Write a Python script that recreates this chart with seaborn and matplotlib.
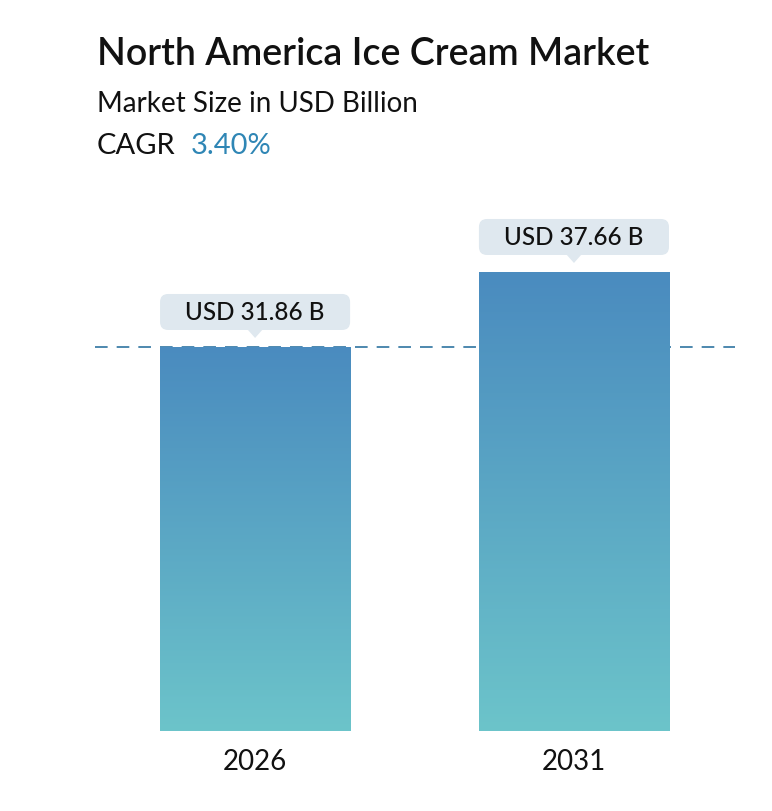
import numpy as np
import pandas as pd
import matplotlib
matplotlib.use("Agg")
import matplotlib.pyplot as plt
import seaborn as sns
from matplotlib.colors import LinearSegmentedColormap
from matplotlib.patches import FancyBboxPatch, Polygon
from matplotlib.transforms import IdentityTransform

years = ["2026", "2031"]
values = [31.86, 37.66]
labels = ["USD 31.86 B", "USD 37.66 B"]
title = "North America Ice Cream Market"
subtitle = "Market Size in USD Billion"
cagr = "3.40%"

sns.set_style("white")
plt.rcParams["font.family"] = ["Lato", "DejaVu Sans"]

df = pd.DataFrame({"year": years, "value": values})

fig = plt.figure(figsize=(7.72, 8.11), dpi=100)
W, H = 772, 811
# axes: x 95..735 px, y 200..731 px
ax = fig.add_axes([95 / W, 1 - 731 / H, 640 / W, 531 / H])

sns.barplot(data=df, x="year", y="value", ax=ax, width=0.596,
            color="#5aa6c4", saturation=1)
ax.set_xlim(-0.502, 1.505)
ax.set_ylim(2.16, 2.16 + 531 / 12.93)

# gradient fill inside bars
cmap = LinearSegmentedColormap.from_list("g", ["#6cc4ca", "#4a8bbf"])
grad = np.linspace(0, 1, 256).reshape(-1, 1)
for bar in ax.patches:
    x0, y0 = bar.get_x(), bar.get_y()
    w, h = bar.get_width(), bar.get_height()
    bar.set_facecolor("none")
    bar.set_edgecolor("none")
    im = ax.imshow(grad, cmap=cmap, aspect="auto", origin="lower",
                   extent=[x0, x0 + w, ax.get_ylim()[0], y0 + h], zorder=2)
    im.set_clip_path(bar)

# dashed reference line at first value
ax.axhline(values[0], color="#3f7fa8", lw=1.3, ls=(0, (7, 5)), zorder=1)

# value callouts (drawn in pixel space, anchored to bar tops)
box_fc = "#dfe8ef"
for bar, lab in zip(ax.patches, labels):
    x0, y0 = bar.get_x(), bar.get_y()
    w, h = bar.get_width(), bar.get_height()
    (px0, ptop) = ax.transData.transform((x0, y0 + h))
    (px1, _) = ax.transData.transform((x0 + w, y0 + h))
    cx = (px0 + px1) / 2
    bw, bh = px1 - px0, 36
    bottom = ptop + 17
    box = FancyBboxPatch((cx - bw / 2 + 6, bottom + 6), bw - 12, bh - 12,
                         boxstyle="round,pad=6,rounding_size=8",
                         fc=box_fc, ec="none", transform=IdentityTransform(),
                         zorder=5)
    fig.patches.append(box)
    tri = Polygon([(cx - 8, bottom + 1), (cx + 8, bottom + 1), (cx, bottom - 8)],
                  closed=True, fc=box_fc, ec="none",
                  transform=IdentityTransform(), zorder=5)
    fig.patches.append(tri)
    fig.text(cx / W, (bottom + bh / 2 - 1) / H, lab, ha="center", va="center",
             fontsize=17.5, weight="medium", color="#111111", zorder=6)

ax.set_xlabel("")
ax.set_ylabel("")
ax.set_yticks([])
ax.tick_params(axis="x", length=0, labelsize=20, pad=13, colors="#111111")
for s in ax.spines.values():
    s.set_visible(False)

fig.text(97 / W, 1 - 65 / H, title, fontsize=27, weight="semibold",
         color="#111111", va="baseline")
fig.text(97 / W, 1 - 112 / H, subtitle, fontsize=20, color="#111111",
         va="baseline")
fig.text(97 / W, 1 - 154 / H, "CAGR", fontsize=21, color="#111111",
         va="baseline")
fig.text(191 / W, 1 - 154 / H, cagr, fontsize=21, color="#2f86b5",
         va="baseline")

fig.savefig("out.png", dpi=100, facecolor="white")
